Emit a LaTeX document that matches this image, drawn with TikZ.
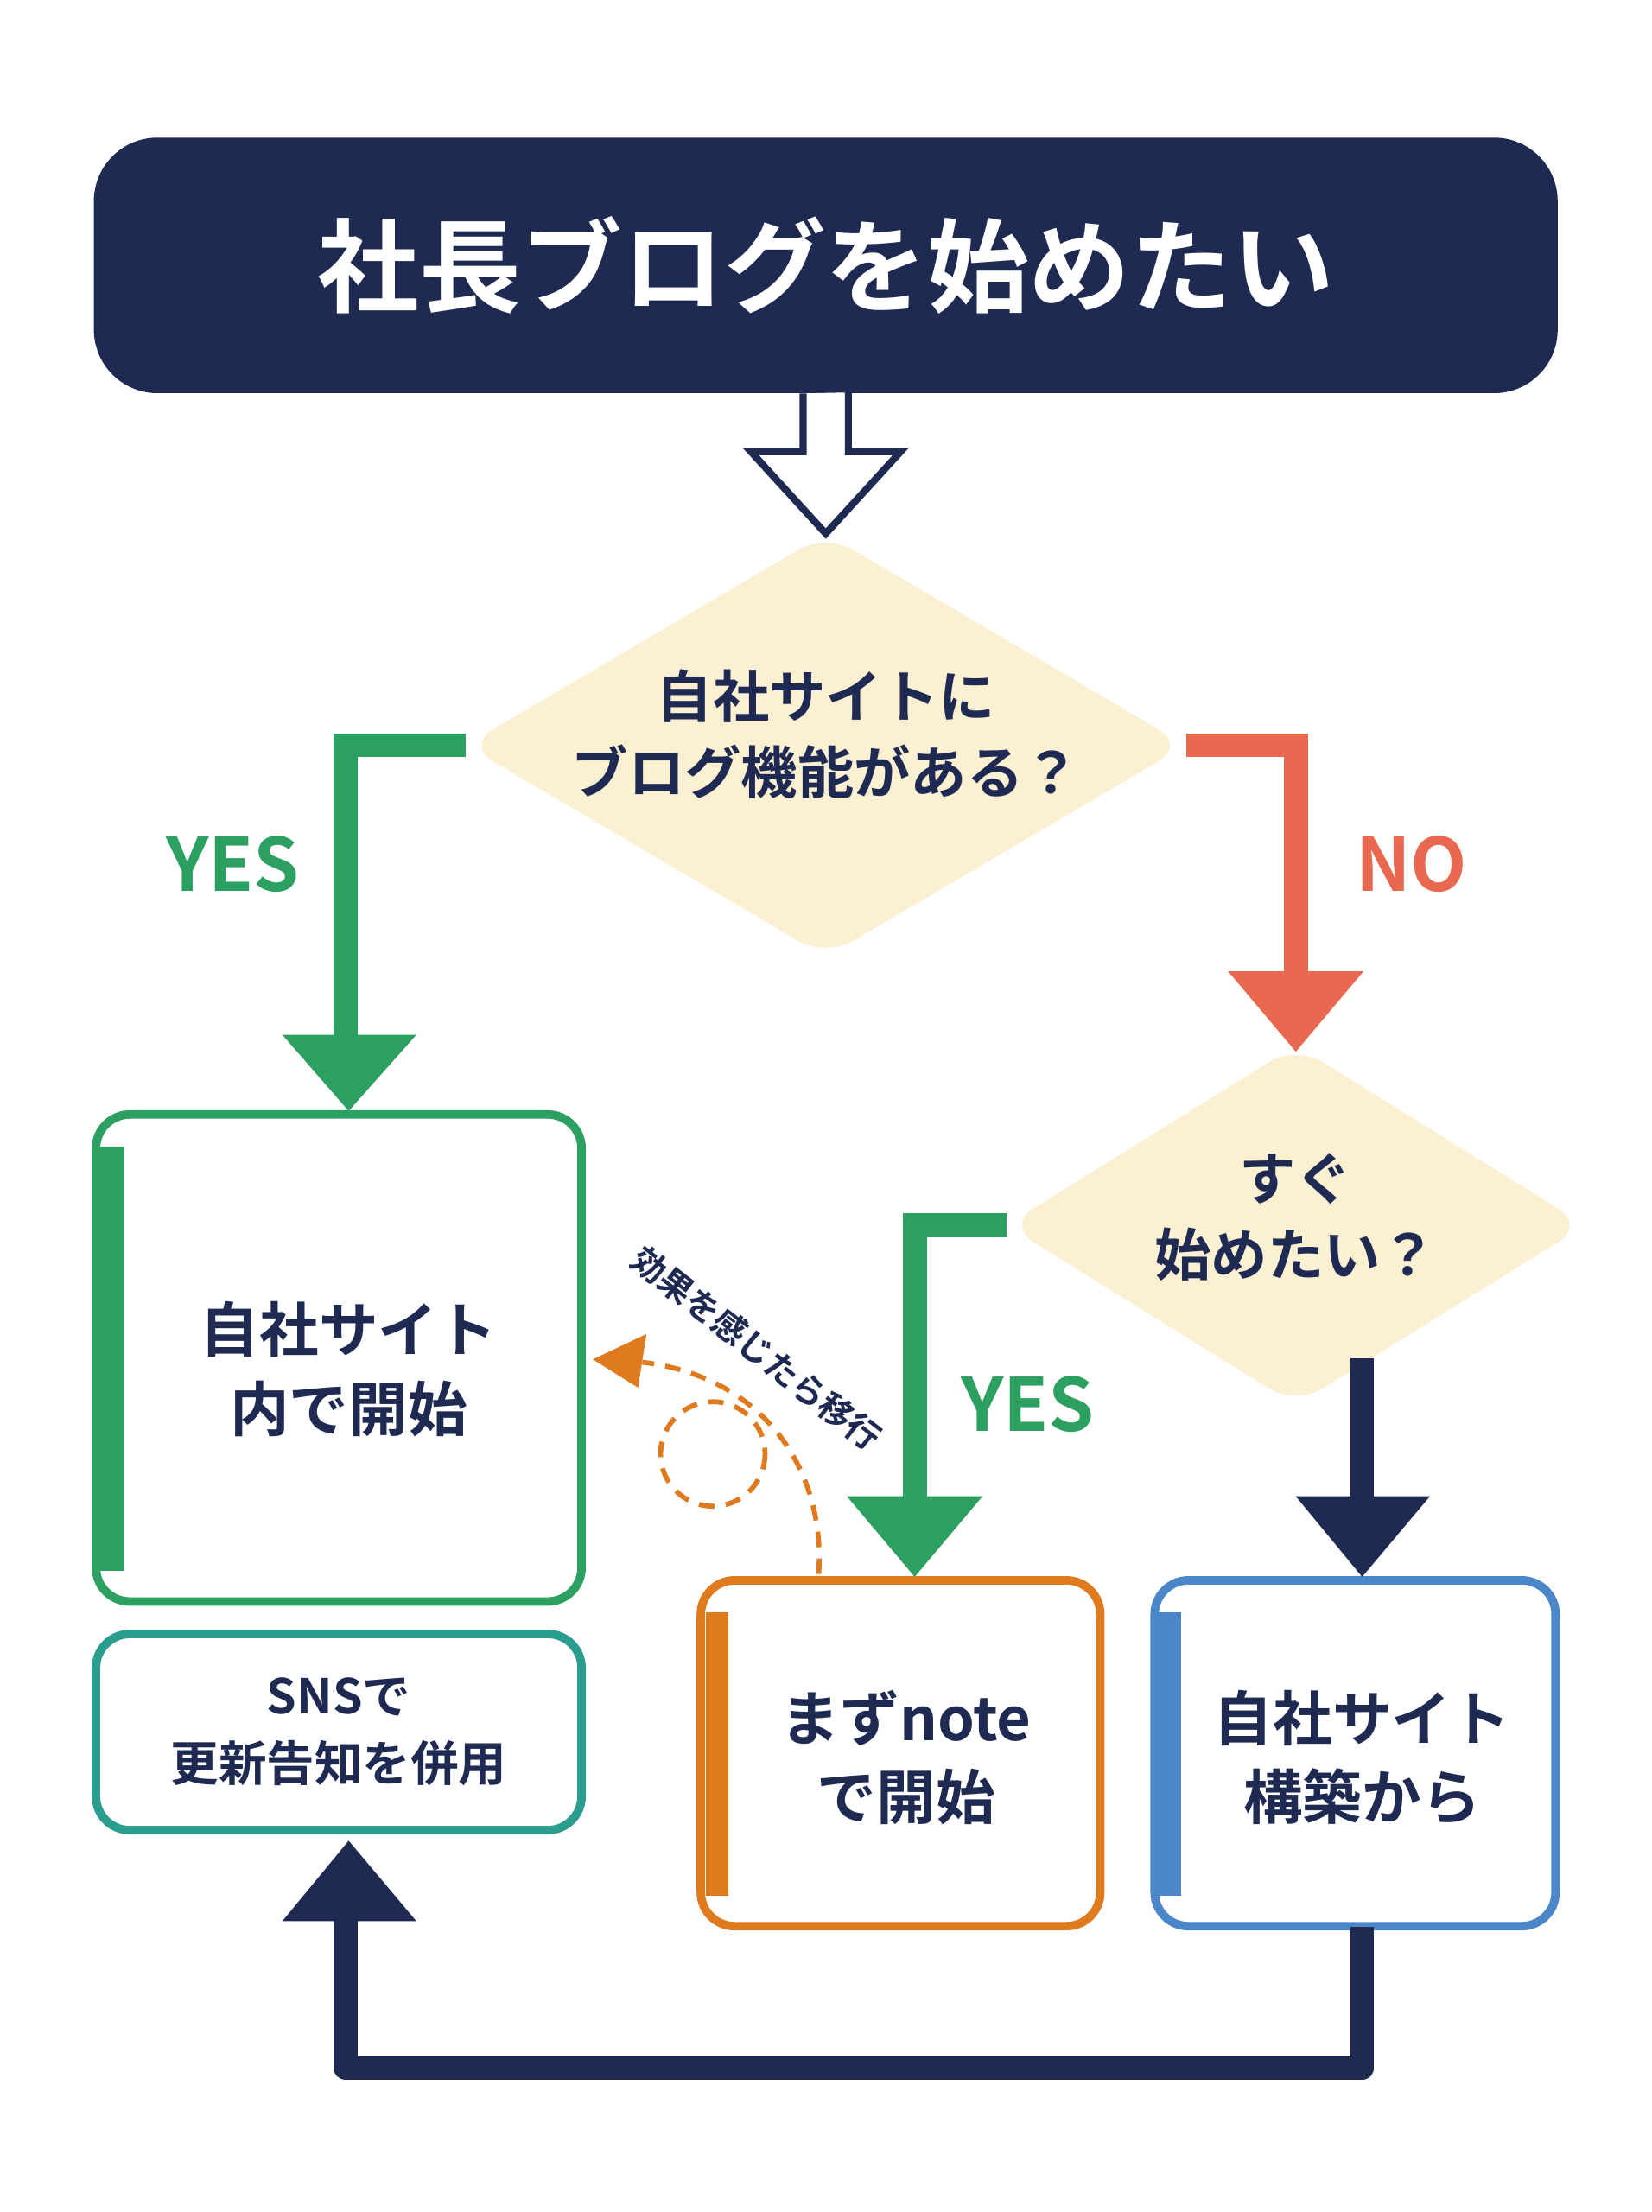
\documentclass[tikz,border=0pt]{standalone}
\usepackage{fontspec}
\setmainfont{Noto Sans CJK JP}[UprightFont=* Bold]
\usetikzlibrary{shapes.geometric,calc}
\definecolor{navy}{HTML}{1E2A52}
\definecolor{cream}{HTML}{FCF0D2}
\definecolor{grn}{HTML}{2BA060}
\definecolor{red}{HTML}{E8694F}
\definecolor{teal}{HTML}{2A9D8F}
\definecolor{org}{HTML}{E07A1F}
\definecolor{blu}{HTML}{4A86C8}
\begin{document}
\begin{tikzpicture}[x=1pt,y=-1pt,
  box/.style={draw=#1,line width=6pt,rounded corners=24pt,fill=white},
  txt/.style={text=navy,align=center,font=\fontsize{42}{56}\selectfont},
  dia/.style={diamond,fill=cream,draw=none,rounded corners=22pt,aspect=1.7,inner sep=0pt,minimum width=510pt,minimum height=300pt},
  conn/.style={line width=17pt,draw=#1},
  lab/.style={font=\fontsize{52}{60}\selectfont,text=#1}]
\useasboundingbox (0,0) rectangle (1170,1567);
\fill[white] (0,0) rectangle (1170,1567);
% title
\node[fill=navy,rounded corners=45pt,minimum width=1037pt,minimum height=181pt,text=white,font=\fontsize{72}{80}\selectfont] (title) at (585,188) {社長ブログを始めたい};
% hollow arrow
\draw[navy,line width=5pt,fill=white,line join=miter] (title.south) ++(-16,0) -- (569,320) -- (532,320) -- (585,378) -- (638,320) -- (601,320) -- (601,278);
% diamonds
\node[dia] (d1) at (585,528) {};
\node[txt,font=\fontsize{40}{54}\selectfont] at (585,520) {自社サイトに\\ブログ機能がある？};
\node[dia,minimum width=410pt,minimum height=255pt] (d2) at (918,868) {};
\node[txt,font=\fontsize{40}{54}\selectfont] at (918,862) {すぐ\\始めたい？};
% boxes
\node[box=grn,minimum width=344pt,minimum height=345pt] (b1) at (240,962) {};
\fill[grn] (71,812) rectangle (88,1113);
\node[txt] at (247,970) {自社サイト\\内で開始};
\node[box=teal,minimum width=344pt,minimum height=139pt] (sns) at (240,1227) {};
\node[txt,font=\fontsize{34}{48}\selectfont] at (240,1227) {SNSで\\更新告知を併用};
\node[box=org,minimum width=283pt,minimum height=245pt] (note) at (638,1242) {};
\fill[org] (500,1142) rectangle (516,1343);
\node[txt] at (642,1245) {まずnote\\で開始};
\node[box=blu,minimum width=284pt,minimum height=245pt] (own) at (960,1242) {};
\fill[blu] (821,1142) rectangle (837,1343);
\node[txt] at (965,1245) {自社サイト\\構築から};
% connectors
\coordinate (a1) at (245,735);
\draw[conn=grn] (d1.west) -- (245,528) -- (a1);
\fill[grn] (200,733) -- (295,733) -- (247,787) -- cycle;
\node[lab=grn] at (165,612) {YES};
\coordinate (a2) at (918,690);
\draw[conn=red] (d1.east) -- (918,528) -- (a2);
\fill[red] (870,688) -- (966,688) -- (918,745) -- cycle;
\node[lab=red] at (1000,612) {NO};
\coordinate (a3) at (648,1062);
\draw[conn=grn] (d2.west) -- (648,868) -- (a3);
\fill[grn] (600,1060) -- (696,1060) -- (648,1117) -- cycle;
\node[lab=grn] at (728,995) {YES};
\coordinate (a4) at (965,1062);
\draw[conn=navy] (965,962) -- (a4);
\fill[navy] (918,1060) -- (1013,1060) -- (965,1117) -- cycle;
\coordinate (a5) at (245,1358);
\draw[conn=navy,line join=round] (965,1365) -- (965,1465) -- (245,1465) -- (a5);
\fill[navy] (200,1361) -- (295,1361) -- (247,1304) -- cycle;
% dashed
\draw[org,line width=3.5pt,dash pattern=on 11pt off 8pt] (580,1115) .. controls (585,1040) and (540,975) .. (455,965);
\fill[org] (420,963) -- (458,945) -- (452,983) -- cycle;
\draw[org,line width=3.5pt,dash pattern=on 11pt off 8pt] (505,1030) circle (37);
\node[text=navy,rotate=-38,font=\fontsize{24}{26}\selectfont] at (536,955) {効果を感じたら移行};
\end{tikzpicture}
\end{document}
